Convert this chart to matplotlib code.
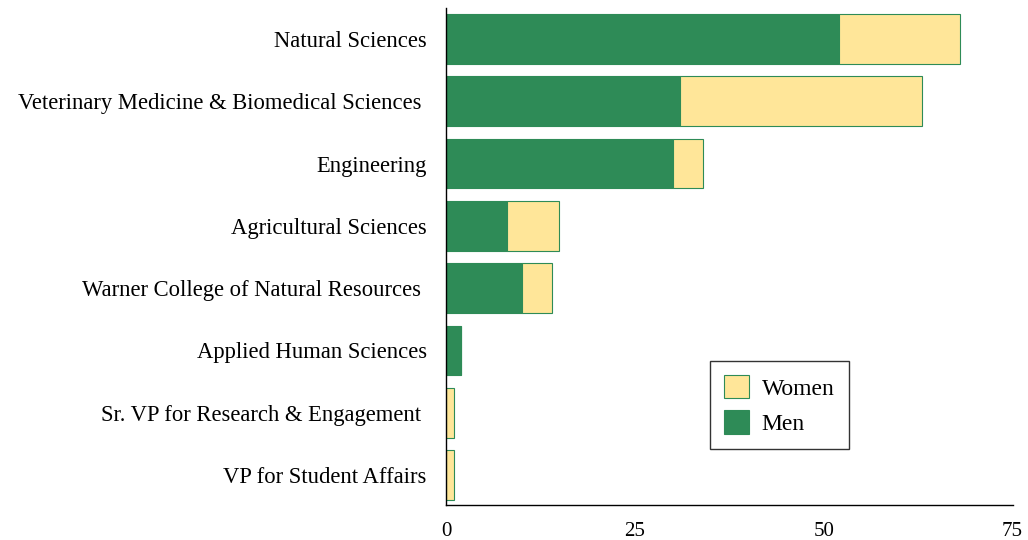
import numpy as np
import matplotlib.pyplot as plt

plt.rcParams['font.family'] = ['Liberation Serif', 'DejaVu Serif']

colleges = ['Natural Sciences',
            'Veterinary Medicine & Biomedical Sciences ',
            'Engineering',
            'Agricultural Sciences',
            'Warner College of Natural Resources ',
            'Applied Human Sciences',
            'Sr. VP for Research & Engagement ',
            'VP for Student Affairs']
men = [52, 31, 30, 8, 10, 2, 0, 0]
women = [16, 32, 4, 7, 4, 0, 1, 1]
xticks = [0, 25, 50, 75]

green = '#2e8b57'
yellow = '#ffe699'

fig = plt.figure(figsize=(10.28, 5.4), dpi=100)
ax = fig.add_axes([0.434, 0.065, 0.551, 0.920])

y = np.arange(len(colleges))
ax.barh(y, men, height=0.8, color=green, edgecolor=green, linewidth=0.8, label='Men')
ax.barh(y, women, left=men, height=0.8, color=yellow, edgecolor=green, linewidth=0.8, label='Women')

ax.set_ylim(7.48, -0.496)
ax.set_xlim(0, 75)
ax.set_yticks(y)
ax.set_yticklabels(colleges, fontsize=16.3)
ax.set_xticks(xticks)
ax.set_xticklabels([str(t) for t in xticks], fontsize=15)
ax.tick_params(length=0)
ax.tick_params(axis='y', pad=14)
ax.tick_params(axis='x', pad=12)
for s in ['top', 'right']:
    ax.spines[s].set_visible(False)
for s in ['left', 'bottom']:
    ax.spines[s].set_linewidth(1.0)

h, l = ax.get_legend_handles_labels()
leg = ax.legend(h[::-1], l[::-1], loc='upper left', bbox_to_anchor=(0.4656, 0.29),
                borderaxespad=0, fontsize=17, frameon=True, fancybox=False,
                edgecolor='black', handlelength=1.05, handleheight=1.15,
                handletextpad=0.55, borderpad=0.6, labelspacing=0.45)
leg.get_frame().set_linewidth(1.0)

plt.savefig('out.png', dpi=100)
